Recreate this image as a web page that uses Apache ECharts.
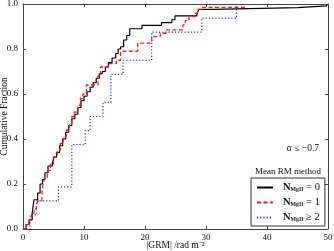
<!DOCTYPE html>
<html>
<head>
<meta charset="utf-8">
<script src="https://cdn.jsdelivr.net/npm/echarts@6/dist/echarts.min.js"></script>
<style>html,body{margin:0;padding:0;background:#fff}#c{width:334px;height:251px}</style>
</head>
<body>
<div id="c"></div>
<script>
// ---- data ----
const xTicks = [0, 10, 20, 30, 40, 50];
const yTicks = ['0.0', '0.2', '0.4', '0.6', '0.8', '1.0'];
const seriesNames = ['0', '1', '2'];
const seriesOps = ['=', '=', '≥'];

const blackX = [0, 0.5, 1.0, 1.5, 1.8, 2.4, 2.8, 3.2, 3.6, 4.1, 4.8, 5.1, 5.5, 6.0, 6.5, 7.0, 7.5, 8.0, 8.5, 9.0, 9.5, 10.0, 10.5, 11.0, 11.5, 12.0, 12.5, 13.0, 13.5, 14.0, 14.6, 15.2, 15.6, 16.0, 16.5, 17.0, 17.5, 19.5, 22.7, 24.4, 24.9, 28.5, 28.8, 31.1, 45.0, 49.8];
const blackY = [0, 0.02, 0.04, 0.07, 0.13, 0.16, 0.20, 0.22, 0.25, 0.28, 0.29, 0.32, 0.34, 0.37, 0.40, 0.43, 0.46, 0.49, 0.51, 0.54, 0.57, 0.59, 0.61, 0.63, 0.65, 0.67, 0.69, 0.70, 0.72, 0.74, 0.76, 0.78, 0.80, 0.81, 0.84, 0.86, 0.89, 0.905, 0.917, 0.93, 0.947, 0.956, 0.976, 0.984, 0.992, 1.0];

const redX = [0, 0.6, 1.0, 1.4, 1.8, 2.2, 2.5, 3.1, 3.3, 3.6, 4.0, 4.5, 5.0, 5.6, 6.1, 6.6, 7.1, 7.6, 8.0, 8.4, 9.0, 9.4, 9.8, 10.4, 12.3, 12.7, 14.0, 15.3, 16.0, 18.8, 21.1, 22.5, 23.5, 26.2, 26.6, 27.2, 28.2, 28.6, 29.2, 36.3];
const redY = [0, 0.02, 0.04, 0.06, 0.09, 0.11, 0.125, 0.16, 0.20, 0.23, 0.26, 0.29, 0.32, 0.35, 0.38, 0.41, 0.44, 0.47, 0.50, 0.52, 0.55, 0.58, 0.60, 0.64, 0.68, 0.72, 0.735, 0.75, 0.79, 0.826, 0.855, 0.87, 0.885, 0.907, 0.926, 0.944, 0.959, 0.976, 0.985, 1.0];

const blueX = [0, 1.15, 2.2, 5.8, 8.0, 10.2, 11.0, 13.1, 14.4, 16.4, 21.1, 29.3, 35.0];
const blueY = [0, 0.0625, 0.125, 0.1875, 0.375, 0.4375, 0.5, 0.5625, 0.6875, 0.75, 0.875, 0.9375, 1.0];

const xLabel = '|GRM| /rad m⁻²';
const yLabel = 'Cumulative Fraction';
const alphaLabel = 'α ≤ −0.7';
const legendTitle = 'Mean RM method';

// ---- chart ----
const FONT = 'Liberation Serif';
const frame = '#444';
const pairs = (xs, ys) => xs.map((x, i) => [x, ys[i]]);

const chart = echarts.init(document.getElementById('c'), null, {renderer: 'canvas'});

const axisCommon = {
  min: 0,
  axisLine: {show: true, onZero: false, lineStyle: {color: frame, width: 1}},
  axisTick: {show: true, inside: true, length: 3, lineStyle: {color: frame}},
  splitLine: {show: false}
};

const option = {
  animation: false,
  backgroundColor: '#fff',
  grid: {left: 23, right: 6, top: 4, bottom: 22, containLabel: false, outerBoundsMode: 'none'},
  xAxis: [
    Object.assign({}, axisCommon, {
      type: 'value', position: 'bottom', max: 50, interval: 10,
      axisLabel: {fontFamily: FONT, fontSize: 9, color: '#111', margin: 4,
        formatter: v => xTicks.includes(v) ? String(v) : ''},
      name: xLabel, nameLocation: 'middle', nameGap: 11, nameMoveOverlap: false,
      nameTextStyle: {fontFamily: FONT, fontSize: 9.5, color: '#111', verticalAlign: 'top'}
    }),
    Object.assign({}, axisCommon, {
      type: 'value', position: 'top', max: 50, interval: 10,
      axisLabel: {show: false}
    })
  ],
  yAxis: [
    Object.assign({}, axisCommon, {
      type: 'value', position: 'left', max: 1, interval: 0.2,
      axisLabel: {fontFamily: FONT, fontSize: 9, color: '#111', margin: 5,
        formatter: v => yTicks[Math.round(v / 0.2)]},
      name: yLabel, nameLocation: 'middle', nameGap: 14, nameRotate: 90, nameMoveOverlap: false,
      nameTextStyle: {fontFamily: FONT, fontSize: 9.5, color: '#111'}
    }),
    Object.assign({}, axisCommon, {
      type: 'value', position: 'right', max: 1, interval: 0.2,
      axisLabel: {show: false}
    })
  ],
  legend: {
    orient: 'vertical',
    left: 251, top: 178,
    padding: [4, 5, 3, 5],
    itemWidth: 16, itemHeight: 10, itemGap: 4,
    borderColor: '#333', borderWidth: 1, borderRadius: 0,
    backgroundColor: '#fff',
    itemStyle: {opacity: 0},
    data: seriesNames,
    formatter: name => {
      const i = seriesNames.indexOf(name);
      return '{n|N}{s|MgII}{t| ' + seriesOps[i] + ' ' + name + '}';
    },
    textStyle: {
      fontFamily: FONT, fontSize: 10, color: '#111', lineHeight: 11, padding: [0, 0, 0, 5],
      rich: {
        n: {fontFamily: FONT, fontSize: 10.5, fontWeight: 'bold', color: '#111', lineHeight: 11},
        s: {fontFamily: FONT, fontSize: 5.8, fontWeight: 'bold', color: '#111', lineHeight: 11, verticalAlign: 'bottom'},
        t: {fontFamily: FONT, fontSize: 10.5, color: '#111', lineHeight: 11}
      }
    }
  },
  graphic: [
    {type: 'text', left: 255, top: 167, z: 10,
      style: {text: legendTitle, font: '9px "Liberation Serif"', fill: '#111'}},
    {type: 'text', right: 15, top: 143, z: 10,
      style: {text: alphaLabel, font: '9.5px "Liberation Serif"', fill: '#111'}}
  ],
  series: [
    {name: seriesNames[0], type: 'line', step: 'end', symbol: 'none', data: pairs(blackX, blackY),
      lineStyle: {color: '#000', width: 1.2, type: 'solid'}, itemStyle: {color: '#000'}, z: 3},
    {name: seriesNames[1], type: 'line', step: 'end', symbol: 'none', data: pairs(redX, redY),
      lineStyle: {color: '#ff1a1a', width: 1.3, type: [4, 2.5]}, itemStyle: {color: '#ff1a1a'}, z: 4},
    {name: seriesNames[2], type: 'line', step: 'end', symbol: 'none', data: pairs(blueX, blueY),
      lineStyle: {color: '#2020ff', width: 1.2, type: [1.2, 2]}, itemStyle: {color: '#2020ff'}, z: 2}
  ]
};
chart.setOption(option);
</script>
</body>
</html>
